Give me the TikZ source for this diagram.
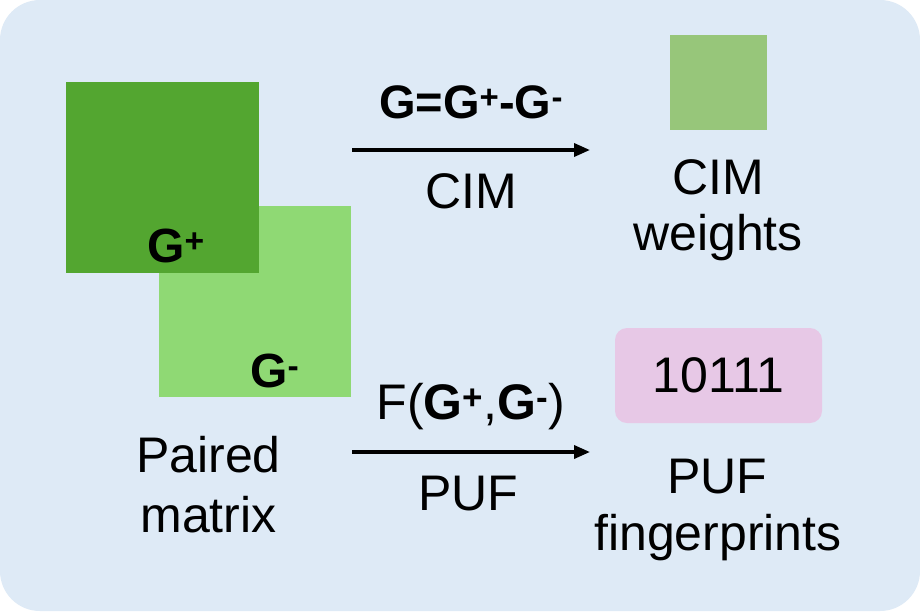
\documentclass[tikz,border=0pt]{standalone}
\usepackage{fontspec}
\setmainfont{Liberation Sans}
\usetikzlibrary{arrows.meta}
\definecolor{bgblue}{HTML}{DEEAF6}
\definecolor{darkgr}{HTML}{53A630}
\definecolor{lightgr}{HTML}{8FD974}
\definecolor{cimgr}{HTML}{97C67A}
\definecolor{pufpink}{HTML}{E7C8E6}
\tikzset{
  sq/.style={rectangle, draw=none, inner sep=0pt},
  lbl/.style={inner sep=0pt, anchor=base, font=\fontsize{50}{58}\selectfont},
  glbl/.style={inner sep=0pt, anchor=base west, font=\fontsize{48}{56}\selectfont\bfseries},
  flow/.style={line width=3.5pt, -{Triangle[length=16pt,width=13pt]}},
}
\begin{document}
\begin{tikzpicture}[x=1pt,y=-1pt]
\useasboundingbox (0,0) rectangle (920,611);
\fill[white] (0,0) rectangle (920,611);
\fill[bgblue, rounded corners=40pt] (0,0) rectangle (920,611);
% paired matrix
\node[sq, fill=lightgr, minimum width=192pt, minimum height=191pt] (gm) at (255,301.5) {};
\node[sq, fill=darkgr, minimum width=193pt, minimum height=191pt] (gp) at (162.5,177.5) {};
\node[glbl] (gpl) at (147,262) {G\textsuperscript{+}};
\node[glbl] (gml) at (250,387) {G\textsuperscript{-}};
\node[lbl] (paired) at (208.5,472) {Paired};
\node[lbl] (matrix) at (208.5,532) {matrix};
% CIM branch
\coordinate (a1s) at (352,150);
\coordinate (a1e) at (590,150);
\draw[flow] (a1s) -- (a1e);
\node[lbl, font=\fontsize{47}{54}\selectfont\bfseries] (eq) at (471,118) {G=G\textsuperscript{+}-G\textsuperscript{-}};
\node[lbl] (cim) at (471,208) {CIM};
\node[sq, fill=cimgr, minimum width=97pt, minimum height=95pt] (w) at (718.5,82.5) {};
\node[lbl] (cimr) at (718,194) {CIM};
\node[lbl] (weights) at (718,250) {weights};
% PUF branch
\coordinate (a2s) at (352,452);
\coordinate (a2e) at (590,452);
\draw[flow] (a2s) -- (a2e);
\node[lbl] (fg) at (471,419) {F(\textbf{G\textsuperscript{+}},\textbf{G\textsuperscript{-}})};
\node[lbl] (puf) at (468,510) {PUF};
\node[rectangle, fill=pufpink, rounded corners=12pt, minimum width=207pt, minimum height=95pt, inner sep=0pt, font=\fontsize{50}{58}\selectfont] (fp) at (718.5,375.5) {10111};
\node[lbl] (pufr) at (717,493) {PUF};
\node[lbl] (fingers) at (718,550) {fingerprints};
\end{tikzpicture}
\end{document}
